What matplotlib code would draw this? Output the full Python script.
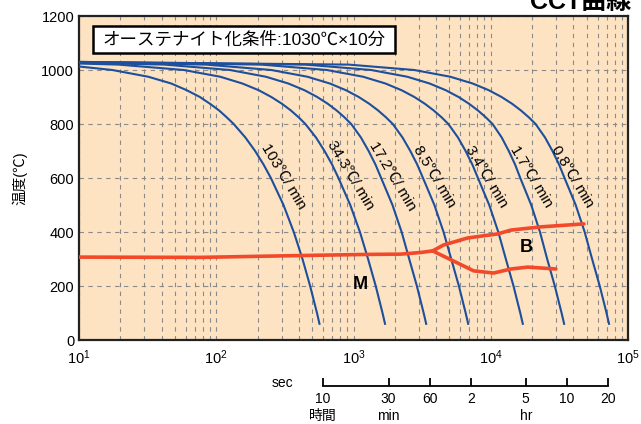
import matplotlib
matplotlib.use('agg')
import matplotlib.pyplot as plt
import matplotlib.transforms as mtransforms
from matplotlib.patches import Rectangle
from matplotlib.ticker import FixedLocator, LogLocator, NullFormatter

plt.rcParams['font.family'] = ['Liberation Sans', 'Noto Sans CJK JP', 'DejaVu Sans']

# cooling rates (degC/min) and the temperature each curve has at t = 10 s
rates = ['103', '34.3', '17.2', '8.5', '3.4', '1.7', '0.8']
start_temp = [1013, 1024, 1027, 1029, 1029, 1030, 1030]

# temperature levels and the time (s) at which each curve reaches them
temp_levels = [1020, 1000, 975, 950, 925, 900, 875, 850, 825, 800,
               750, 700, 650, 600, 500, 400, 300, 200, 100, 60]
cross_times = [
    [None, 17.5, 32, 47, 61, 76, 90, 105, 119, 134, 163, 192, 221, 250, 309, 367, 425, 483, 542, 565],
    [19.4, 58, 107, 155, 204, 252, 301, 350, 398, 446, 533, 615, 698, 777, 947, 1114, 1277, 1452, 1627, 1697],
    [42, 126, 230, 335, 440, 544, 649, 754, 858, 962, 1133, 1289, 1445, 1590, 1923, 2242, 2547, 2895, 3244, 3384],
    [84, 252, 462, 672, 882, 1092, 1302, 1512, 1722, 1933, 2276, 2594, 2911, 3208, 3883, 4531, 5153, 5859, 6565, 6847],
    [213, 640, 1175, 1709, 2242, 2776, 3310, 3843, 4377, 4911, 5771, 6558, 7340, 8066, 9746, 11350, 12880, 14650, 16410, 17120],
    [448, 1345, 2465, 3586, 4706, 5827, 6948, 8068, 9189, 10310, 12020, 13530, 15040, 16410, 19720, 22840, 25770, 29290, 32820, 34240],
    [923, 2768, 5074, 7380, 9686, 11990, 14300, 16600, 18910, 21220, 24860, 28170, 31450, 34480, 41580, 48340, 54750, 62250, 69750, 72750],
]
# where the rate labels sit (time s, temp)
label_t = [310, 950, 1930, 3900, 9350, 19900, 39600]
label_T = [604, 611, 607, 607, 607, 607, 607]

# transformation lines
ms_t = [10, 76, 432, 1265, 2200, 3080, 3770]
ms_T = [307, 306, 313, 317, 318, 324, 330]
bs_t = [3770, 4540, 6800, 11250, 14000, 23200, 47700]
bs_T = [330, 352, 378, 393, 407, 419, 430]
bf_t = [3770, 5740, 7510, 10500, 14000, 18600, 29800]
bf_T = [330, 285, 256, 248, 263, 270, 263]

# lower time scale
time_ticks_s = [600, 1800, 3600, 7200, 18000, 36000, 72000]
time_tick_labels = ['10', '30', '60', '2', '5', '10', '20']

blue = '#1d4f9c'
red = '#f2492a'

fig = plt.figure(figsize=(6.41, 4.24), dpi=100)
ax = fig.add_axes([79/641, 1 - 340/424, 549/641, 324/424])
ax.set_facecolor('#fde3c2')
ax.set_xscale('log')
ax.set_xlim(10, 1e5)
ax.set_ylim(0, 1200)
ax.set_yticks(range(0, 1201, 200))
ax.xaxis.set_minor_locator(LogLocator(base=10, subs=range(2, 10)))
ax.xaxis.set_minor_formatter(NullFormatter())
ax.tick_params(which='both', length=0, labelsize=10.5, colors='black')
ax.tick_params(axis='x', pad=6)
ax.grid(which='both', axis='x', color='#8a8a8a', linestyle=(0, (4, 4)), linewidth=0.8)
ax.grid(which='major', axis='y', color='#8a8a8a', linestyle=(0, (4, 4)), linewidth=0.8)
for sp in ax.spines.values():
    sp.set_linewidth(1.6)
    sp.set_color('#222222')

for i, r in enumerate(rates):
    ts = [10] + [t for t in cross_times[i] if t is not None]
    Ts = [start_temp[i]] + [lv for t, lv in zip(cross_times[i], temp_levels) if t is not None]
    ax.plot(ts, Ts, color=blue, linewidth=1.5, solid_joinstyle='round', zorder=3)
    ax.text(label_t[i], label_T[i], f'{r}℃/ min', rotation=-59, rotation_mode='anchor',
            ha='center', va='center', fontsize=11, zorder=4)

for ts, Ts in [(ms_t, ms_T), (bs_t, bs_T), (bf_t, bf_T)]:
    ax.plot(ts, Ts, color=red, linewidth=2.6, solid_capstyle='round',
            solid_joinstyle='round', zorder=5)

ax.text(1125, 204, 'M', fontsize=13, fontweight='bold', ha='center', va='center')
ax.text(18000, 344, 'B', fontsize=13, fontweight='bold', ha='center', va='center')

# condition box
ax.add_patch(Rectangle((0.0255, 0.886), 0.55, 0.0833, transform=ax.transAxes,
                       facecolor='white', edgecolor='black', linewidth=1.8, zorder=6))
ax.text(0.3005, 0.9275, 'オーステナイト化条件:1030℃×10分', transform=ax.transAxes,
        fontsize=12.6, ha='center', va='center', zorder=7)

ax.set_ylabel('温度(℃)', fontsize=10.5, labelpad=10)

# time scale under the plot
ax2 = fig.add_axes([79/641, 1 - 386/424, 549/641, 0.0001])
ax2.set_xscale('log')
ax2.set_xlim(10, 1e5)
ax2.patch.set_visible(False)
for k in ['top', 'left', 'right']:
    ax2.spines[k].set_visible(False)
ax2.spines['bottom'].set_bounds(time_ticks_s[0], time_ticks_s[-1])
ax2.spines['bottom'].set_linewidth(1.3)
ax2.set_yticks([])
ax2.xaxis.set_major_locator(FixedLocator(time_ticks_s))
ax2.xaxis.set_minor_locator(FixedLocator([]))
ax2.set_xticklabels(time_tick_labels)
ax2.tick_params(axis='x', direction='in', length=6, width=1.3, labelsize=10, pad=4)

tr = mtransforms.blended_transform_factory(ax2.transData, fig.transFigure)
fig.text(293/641, 1 - 383/424, 'sec', fontsize=10, ha='right', va='center')
ax2.text(600, 1 - 416/424, '時間', transform=tr, fontsize=10, ha='center', va='center')
ax2.text(1800, 1 - 416/424, 'min', transform=tr, fontsize=10, ha='center', va='center')
ax2.text(18000, 1 - 416/424, 'hr', transform=tr, fontsize=10, ha='center', va='center')

fig.text(0.985, 1 - 9/424, 'CCT曲線', fontsize=18, fontweight='bold', ha='right', va='baseline')

fig.savefig('out.png', dpi=100, facecolor='white')
